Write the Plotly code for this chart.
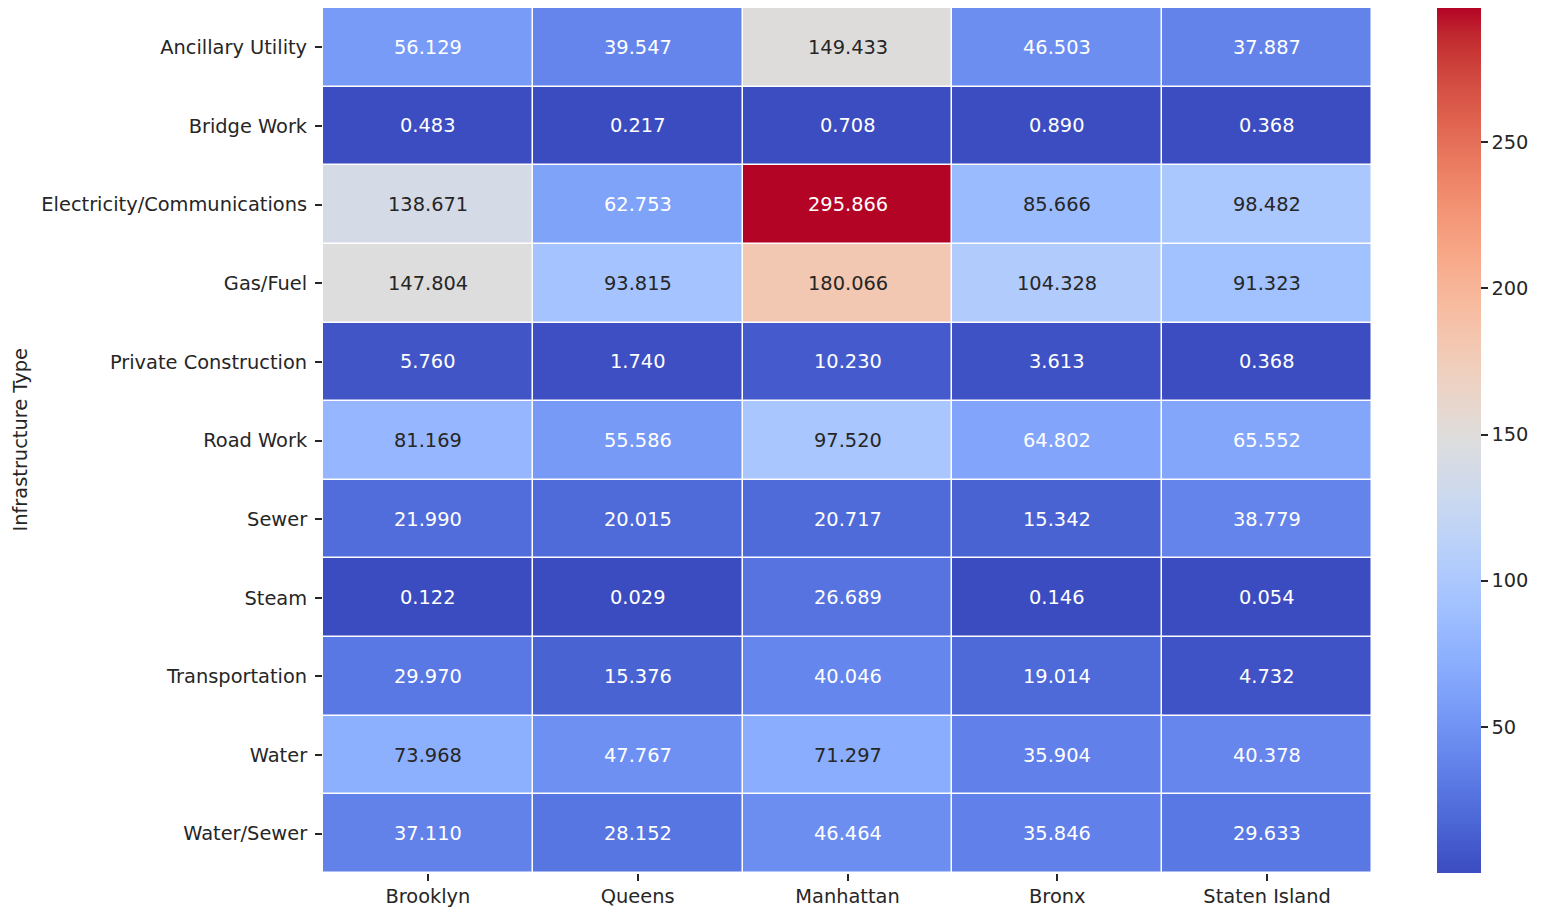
import plotly.graph_objects as go

infra_types = ["Ancillary Utility", "Bridge Work", "Electricity/Communications", "Gas/Fuel",
               "Private Construction", "Road Work", "Sewer", "Steam", "Transportation",
               "Water", "Water/Sewer"]
boroughs = ["Brooklyn", "Queens", "Manhattan", "Bronx", "Staten Island"]

brooklyn = [56.129, 0.483, 138.671, 147.804, 5.760, 81.169, 21.990, 0.122, 29.970, 73.968, 37.110]
queens = [39.547, 0.217, 62.753, 93.815, 1.740, 55.586, 20.015, 0.029, 15.376, 47.767, 28.152]
manhattan = [149.433, 0.708, 295.866, 180.066, 10.230, 97.520, 20.717, 26.689, 40.046, 71.297, 46.464]
bronx = [46.503, 0.890, 85.666, 104.328, 3.613, 64.802, 15.342, 0.146, 19.014, 35.904, 35.846]
staten_island = [37.887, 0.368, 98.482, 91.323, 0.368, 65.552, 38.779, 0.054, 4.732, 40.378, 29.633]

colorbar_ticks = [50, 100, 150, 200, 250]

columns = [brooklyn, queens, manhattan, bronx, staten_island]
z = [[columns[j][i] for j in range(len(boroughs))] for i in range(len(infra_types))]

# matplotlib "coolwarm" (Moreland) colour table
cw = [(59, 76, 192), (68, 90, 204), (77, 104, 215), (87, 117, 225), (98, 130, 234),
      (108, 142, 241), (119, 154, 247), (130, 165, 251), (141, 176, 254), (152, 185, 255),
      (163, 194, 255), (174, 201, 253), (184, 208, 249), (194, 213, 244), (204, 217, 238),
      (213, 219, 230), (221, 221, 221), (229, 216, 209), (236, 211, 197), (241, 204, 184),
      (245, 196, 172), (247, 187, 159), (247, 177, 147), (247, 166, 134), (244, 154, 123),
      (241, 141, 111), (236, 127, 99), (229, 112, 89), (222, 96, 77), (213, 80, 69),
      (203, 62, 56), (192, 40, 47), (180, 4, 38)]
n = len(cw) - 1
colorscale = [[k / n, "rgb(%d,%d,%d)" % c] for k, c in enumerate(cw)]

zmin = min(min(c) for c in columns)
zmax = max(max(c) for c in columns)


def color_at(v):
    t = (v - zmin) / (zmax - zmin)
    t = max(0.0, min(1.0, t))
    p = t * n
    k = min(int(p), n - 1)
    f = p - k
    a, b = cw[k], cw[k + 1]
    return [(a[m] + (b[m] - a[m]) * f) / 255 for m in range(3)]


def lum(rgb):
    out = []
    for c in rgb:
        out.append(c / 12.92 if c <= 0.03928 else ((c + 0.055) / 1.055) ** 2.4)
    return 0.2126 * out[0] + 0.7152 * out[1] + 0.0722 * out[2]


FONT = "DejaVu Sans"
FS = 19.4
DARK = "#262626"

# page body has an 8px margin: figure is drawn at (8, 8)
L, R, T, B = 315, 169, 0, 34
W, H = 1533, 899
plot_w = W - L - R

fig = go.Figure(go.Heatmap(
    z=z, x=boroughs, y=infra_types,
    colorscale=colorscale, zmin=zmin, zmax=zmax,
    xgap=1.5, ygap=1.5, hoverongaps=False,
    colorbar=dict(
        thickness=44, thicknessmode="pixels",
        len=1, lenmode="fraction", y=0.5, yanchor="middle",
        x=(1437 - 323) / plot_w, xanchor="left", xpad=0, ypad=0,
        outlinewidth=0, tickvals=colorbar_ticks, tickprefix="\u00a0",
        ticks="outside", ticklen=7, tickwidth=1.5, tickcolor=DARK,
        tickfont=dict(family=FONT, size=FS, color=DARK),
    ),
))

annotations = []
for i, r in enumerate(infra_types):
    for j, b in enumerate(boroughs):
        v = z[i][j]
        col = DARK if lum(color_at(v)) > 0.408 else "white"
        annotations.append(dict(x=b, y=r, xref="x", yref="y", text="%.3f" % v,
                                showarrow=False, font=dict(family=FONT, size=FS, color=col)))

annotations.append(dict(x=-(323 - 20) / plot_w, y=0.5, xref="paper", yref="paper",
                        text="Infrastructure Type", textangle=-90, showarrow=False,
                        xanchor="center", yanchor="middle",
                        font=dict(family=FONT, size=FS, color=DARK)))

fig.update_layout(
    width=W, height=H,
    margin=dict(l=L, r=R, t=T, b=B, pad=0, autoexpand=False),
    paper_bgcolor="white", plot_bgcolor="white",
    font=dict(family=FONT, size=FS, color=DARK),
    annotations=annotations,
    xaxis=dict(showgrid=False, zeroline=False, ticks="outside", ticklen=7, tickwidth=1.5,
               tickcolor=DARK, tickfont=dict(family=FONT, size=FS, color=DARK),
               ticklabelstandoff=-1, showline=False, automargin=False),
    yaxis=dict(showgrid=False, zeroline=False, autorange="reversed", ticks="outside",
               ticklen=7, tickwidth=1.5, tickcolor=DARK,
               tickfont=dict(family=FONT, size=FS, color=DARK),
               ticklabelstandoff=4, showline=False, automargin=False),
)

fig.write_html("out.html")
